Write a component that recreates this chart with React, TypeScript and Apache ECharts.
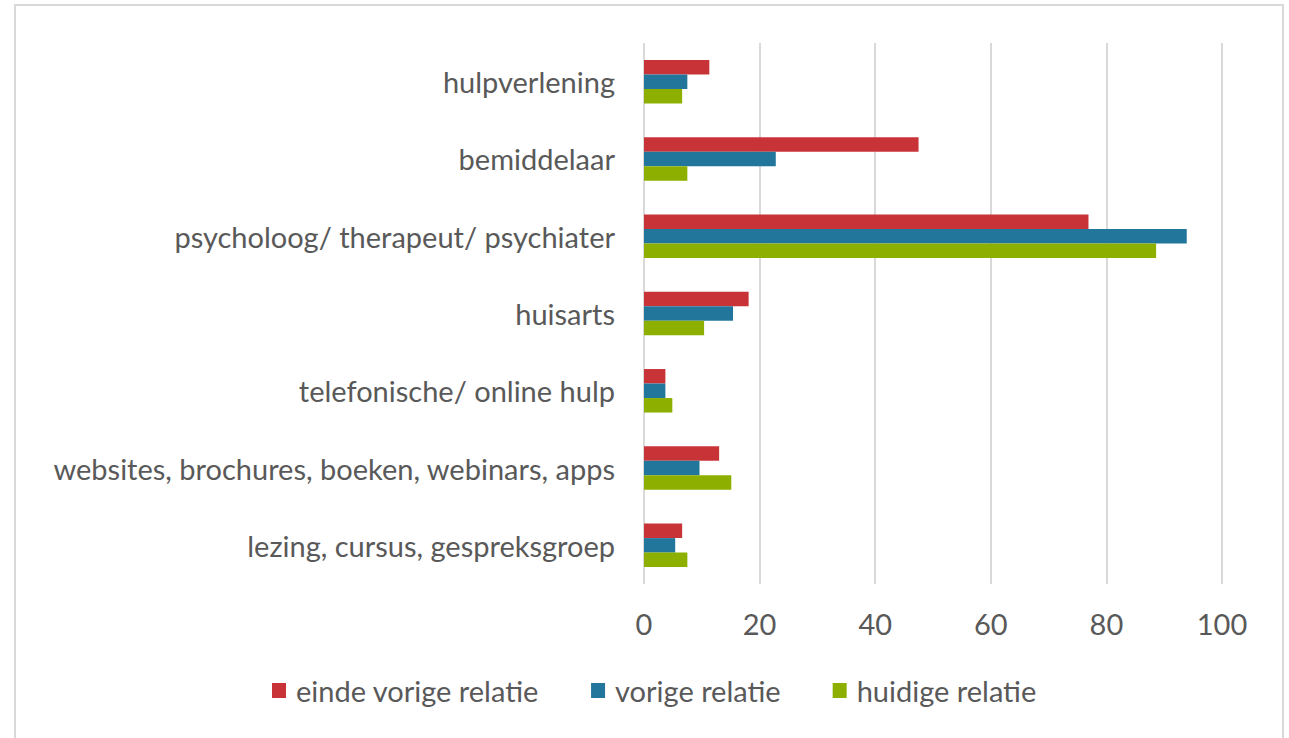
import React, { useEffect, useRef } from "react";
import * as echarts from "echarts";

const categories = [
  "hulpverlening",
  "bemiddelaar",
  "psycholoog/ therapeut/ psychiater",
  "huisarts",
  "telefonische/ online hulp",
  "websites, brochures, boeken, webinars, apps",
  "lezing, cursus, gespreksgroep",
];
const seriesNames = ["einde vorige relatie", "vorige relatie", "huidige relatie"];
const eindeVorige = [11.3, 47.5, 76.9, 18.1, 3.7, 13.0, 6.6];
const vorige = [7.5, 22.8, 93.9, 15.4, 3.7, 9.6, 5.4];
const huidige = [6.6, 7.5, 88.6, 10.4, 4.9, 15.1, 7.5];
const xTicks = [0, 20, 40, 60, 80, 100];
const colors = ["#C83337", "#23769B", "#8CAF00"];

export default function App() {
  const ref = useRef<HTMLDivElement>(null);
  useEffect(() => {
    if (!ref.current) return;
    const chart = echarts.init(ref.current, undefined, { renderer: "svg" });
    const font = "Lato, 'Open Sans', sans-serif";
    const values = [eindeVorige, vorige, huidige];
    chart.setOption({
      animation: false,
      textStyle: { fontFamily: font },
      graphic: [
        {
          type: "rect",
          shape: { x: 15, y: 5, width: 1268, height: 745 },
          style: { fill: "none", stroke: "#D9D9D9", lineWidth: 2 },
          silent: true,
        },
      ],
      grid: { left: 644, right: 67, top: 43, bottom: 154, containLabel: false },
      legend: {
        data: seriesNames,
        left: 267,
        top: 671,
        itemWidth: 14,
        itemHeight: 15,
        itemGap: 52,
        icon: "rect",
        textStyle: { color: "#595959", fontSize: 29, fontFamily: font, padding: [0, 0, 0, 5] },
      },
      xAxis: {
        type: "value",
        min: xTicks[0],
        max: xTicks[xTicks.length - 1],
        interval: 20,
        axisLine: { show: false },
        axisTick: { show: false },
        splitLine: { show: true, lineStyle: { color: "#D9D9D9", width: 2 } },
        axisLabel: { color: "#595959", fontSize: 29, margin: 25, fontFamily: font },
      },
      yAxis: {
        type: "category",
        data: categories,
        inverse: true,
        axisLine: { show: false },
        axisTick: { show: false },
        axisLabel: { color: "#595959", fontSize: 29, margin: 29, fontFamily: font },
      },
      series: seriesNames.map((name, i) => ({
        name,
        type: "bar",
        data: values[i],
        barWidth: 14.5,
        barGap: "0%",
        itemStyle: { color: colors[i] },
      })),
    });
    return () => chart.dispose();
  }, []);
  return (
    <div
      ref={ref}
      style={{ position: "fixed", left: 0, top: 0, width: 1289, height: 738, background: "#fff" }}
    />
  );
}
